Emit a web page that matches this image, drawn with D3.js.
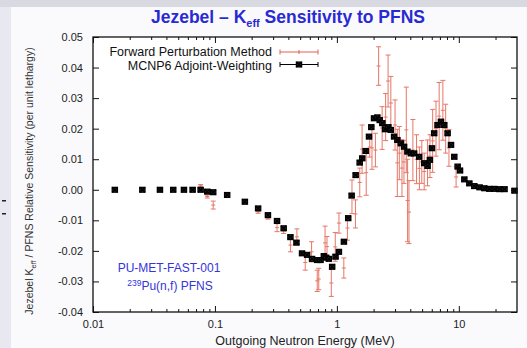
<!DOCTYPE html>
<html><head><meta charset="utf-8">
<script src="https://cdn.jsdelivr.net/npm/d3@7"></script>
<style>body{margin:0;background:#fafafd;} svg{display:block;font-family:Arial,"Liberation Sans",sans-serif;}</style>
</head><body><svg id="c" width="527" height="348"></svg>
<script>
// MCNP6 adjoint-weighting (black)
const blackE=[0.0151,0.0254,0.0354,0.0455,0.0557,0.0656,0.0763,0.0865,0.0968,0.126,0.176,0.226,0.272,0.323,0.366,0.416,0.466,0.518,0.570,0.626,0.689,0.734,0.782,0.817,0.859,0.915,0.975,1.039,1.142,1.239,1.321,1.425,1.538,1.615,1.722,1.834,1.916,2.017,2.147,2.246,2.36,2.483,2.643,2.767,2.946,3.135,3.344,3.558,3.79,4.043,4.30,4.73,5.20,5.54,5.79,6.02,6.28,6.69,7.14,7.60,8.09,8.63,9.18,9.78,10.23,11.1,12.2,13.4,14.8,16.2,17.8,19.6,21.5,23.7,28.6];
const blackV=[0,0,0,0,0,0,0,-0.0006,-0.0008,-0.0017,-0.0039,-0.0061,-0.0083,-0.0102,-0.0126,-0.0155,-0.0173,-0.0208,-0.0213,-0.0226,-0.0230,-0.0230,-0.0217,-0.0222,-0.0226,-0.0252,-0.0219,-0.0203,-0.0170,-0.0093,-0.0019,0.0048,0.0089,0.0103,0.0127,0.0174,0.0205,0.0234,0.0237,0.0228,0.0218,0.0198,0.0205,0.0196,0.0174,0.0163,0.0152,0.0141,0.0125,0.0119,0.0119,0.0108,0.0087,0.0078,0.0098,0.0136,0.0185,0.0212,0.0223,0.0212,0.0185,0.0147,0.0108,0.0076,0.0063,0.0034,0.0021,0.0012,0.0008,0.0005,0.0003,0.0003,0.0002,0.0002,-0.0003];
// Forward perturbation (red) with error bars
const redE=[0.0354,0.0455,0.0763,0.0865,0.0968,0.176,0.226,0.272,0.323,0.366,0.416,0.47,0.55,0.62,0.69,0.71,0.80,0.83,0.90,0.97,1.04,1.14,1.22,1.33,1.42,1.54,1.61,1.74,1.86,1.94,2.07,2.2,2.35,2.51,2.63,2.77,3.0,3.13,3.25,3.42,3.55,3.71,3.8,3.9,4.2,4.5,4.75,4.97,5.2,5.54,5.8,6.1,6.5,6.9,7.4,7.8,8.3,9.5];
const redV=[0.0003,0.0004,0.0013,-0.0022,-0.0050,-0.0044,-0.0072,-0.0092,-0.0124,-0.0135,-0.0181,-0.0154,-0.0238,-0.0203,-0.0298,-0.0292,-0.0174,-0.0186,-0.0305,-0.0187,-0.0109,-0.0256,-0.0125,-0.0023,-0.0079,0.0024,0.0133,0.0056,0.0140,0.0137,0.0130,0.0405,0.0202,0.0238,0.0356,0.0284,0.0212,0.0088,0.0120,0.0071,0.0091,0.0196,-0.0035,-0.0073,0.0130,0.0100,0.0070,0.0091,0.0060,0.0088,0.0110,0.0160,0.0200,0.0241,0.0260,0.0200,0.0137,0.0042];
const redErr=[0.0003,0.0003,0.0004,0.0005,0.0013,0.0004,0.0005,0.0004,0.0013,0.0008,0.0022,0.0026,0.0025,0.0033,0.0035,0.0035,0.0055,0.0033,0.0044,0.0047,0.0033,0.0033,0.0040,0.0055,0.0046,0.0047,0.0079,0.0074,0.0033,0.0070,0.0055,0.0063,0.0070,0.0077,0.0085,0.0087,0.0082,0.0110,0.0087,0.0093,0.0070,0.0140,0.0135,0.0103,0.0100,0.0080,0.0070,0.0070,0.0060,0.0075,0.0070,0.0103,0.0090,0.0110,0.0098,0.0080,0.0060,0.0033];

const xTickValues=[0.01,0.1,1,10];
const xTickLabels=["0.01","0.1","1","10"];
const xMinorValues=[0.02,0.03,0.04,0.05,0.06,0.07,0.08,0.09,0.2,0.3,0.4,0.5,0.6,0.7,0.8,0.9,2,3,4,5,6,7,8,9,20];
const yTickValues=[-0.04,-0.03,-0.02,-0.01,0,0.01,0.02,0.03,0.04,0.05];
const yTickLabels=["-0.04","-0.03","-0.02","-0.01","0.00","0.01","0.02","0.03","0.04","0.05"];
const legendLabels=["Forward Perturbation Method","MCNP6 Adjoint-Weighting"];

const L=93,R=517,T=37,B=312;
const svg=d3.select("#c");
const x=d3.scaleLog().domain([0.01,30]).range([L,R]);
const y=d3.scaleLinear().domain([-0.04,0.05]).range([B,T]);
const red="#e2604e";

// backdrop
svg.append("rect").attr("width",527).attr("height",348).attr("fill","#fafafd");
svg.append("rect").attr("x",0).attr("y",0).attr("width",11).attr("height",348).attr("fill","#e8e8f1");
svg.append("rect").attr("x",0).attr("y",0).attr("width",527).attr("height",7).attr("fill","#d9d9e2");
svg.append("rect").attr("x",L).attr("y",T).attr("width",R-L).attr("height",B-T).attr("fill","#fff");
svg.append("rect").attr("x",2).attr("y",200).attr("width",4).attr("height",1.5).attr("fill","#222");
svg.append("rect").attr("x",2).attr("y",213).attr("width",4).attr("height",1.5).attr("fill","#222");

// title
const title=svg.append("text").attr("x",288).attr("y",23).attr("text-anchor","middle")
  .attr("font-size",17.5).attr("font-weight","bold").attr("fill","#2a2ad4");
title.append("tspan").text("Jezebel \u2013 K");
title.append("tspan").attr("font-size",11).attr("dy",4).text("eff");
title.append("tspan").attr("dy",-4).text(" Sensitivity to PFNS");

// axes
function styleAxis(g){g.select(".domain").remove();g.selectAll("line").attr("stroke","#111").attr("stroke-width",1);g.selectAll("text").attr("fill","#222").attr("font-size",11).attr("font-family","Arial,'Liberation Sans',sans-serif");}
svg.append("g").attr("transform",`translate(0,${B})`).call(d3.axisBottom(x).tickValues(xTickValues).tickFormat((d,i)=>xTickLabels[i]).tickSizeInner(-6).tickSizeOuter(0).tickPadding(8)).call(styleAxis);
svg.append("g").attr("transform",`translate(0,${B})`).call(d3.axisBottom(x).tickValues(xMinorValues).tickFormat("").tickSizeInner(-3).tickSizeOuter(0)).call(styleAxis);
svg.append("g").attr("transform",`translate(0,${T})`).call(d3.axisTop(x).tickValues(xTickValues).tickFormat("").tickSizeInner(-6).tickSizeOuter(0)).call(styleAxis);
svg.append("g").attr("transform",`translate(0,${T})`).call(d3.axisTop(x).tickValues(xMinorValues).tickFormat("").tickSizeInner(-3).tickSizeOuter(0)).call(styleAxis);
svg.append("g").attr("transform",`translate(${L},0)`).call(d3.axisLeft(y).tickValues(yTickValues).tickFormat((d,i)=>yTickLabels[i]).tickSizeInner(-6).tickSizeOuter(0).tickPadding(10)).call(styleAxis);
svg.append("g").attr("transform",`translate(${R},0)`).call(d3.axisRight(y).tickValues(yTickValues).tickFormat("").tickSizeInner(-6).tickSizeOuter(0)).call(styleAxis);

// axis titles
svg.append("text").attr("x",305).attr("y",345).attr("text-anchor","middle").attr("font-size",12.5).attr("fill","#222").text("Outgoing Neutron Energy (MeV)");
const yt=svg.append("text").attr("transform","translate(33,181) rotate(-90)").attr("text-anchor","middle").attr("font-size",10.5).attr("fill","#333");
yt.append("tspan").text("Jezebel K");
yt.append("tspan").attr("font-size",7.5).attr("dy",2.5).text("eff");
yt.append("tspan").attr("dy",-2.5).text(" / PFNS Relative Sensitivity (per unit lethargy)");

// red error bars
const redData=redE.map((e,i)=>({e,v:redV[i],err:redErr[i]}));
const rg=svg.append("g").attr("stroke",red).attr("stroke-width",1).attr("opacity",0.85);
redData.forEach(d=>{
  const cx=x(d.e), y0=y(d.v-d.err), y1=y(d.v+d.err);
  rg.append("line").attr("x1",cx).attr("x2",cx).attr("y1",y0).attr("y2",y1);
  rg.append("line").attr("x1",cx-2.5).attr("x2",cx+2.5).attr("y1",y0).attr("y2",y0);
  rg.append("line").attr("x1",cx-2.5).attr("x2",cx+2.5).attr("y1",y1).attr("y2",y1);
  rg.append("line").attr("x1",cx-2).attr("x2",cx+2).attr("y1",y(d.v)).attr("y2",y(d.v));
});

// black markers
function marker(g,cx,cy){
  g.append("rect").attr("x",cx-2.6).attr("y",cy-2.4).attr("width",5.2).attr("height",4.8).attr("fill","#333").attr("stroke","#000").attr("stroke-width",1.3);
  g.append("path").attr("d",`M${cx-2.6},${cy-2.4}L${cx+2.6},${cy+2.4}M${cx+2.6},${cy-2.4}L${cx-2.6},${cy+2.4}`).attr("stroke","#000").attr("stroke-width",1.4);
}
const bg=svg.append("g");
blackE.forEach((e,i)=>marker(bg,x(e),y(blackV[i])));

// frame
svg.append("rect").attr("x",L).attr("y",T).attr("width",R-L).attr("height",B-T).attr("fill","none").attr("stroke","#111").attr("stroke-width",1.3);

// legend
const lg=svg.append("g");
lg.append("text").attr("x",272).attr("y",56).attr("text-anchor","end").attr("font-size",12.5).attr("fill","#111").text(legendLabels[0]);
lg.append("text").attr("x",272).attr("y",69.5).attr("text-anchor","end").attr("font-size",12.5).attr("fill","#111").text(legendLabels[1]);
const ly1=52, ly2=64.5;
lg.append("line").attr("x1",280).attr("x2",318).attr("y1",ly1).attr("y2",ly1).attr("stroke",red);
[280,318].forEach(px=>lg.append("line").attr("x1",px).attr("x2",px).attr("y1",ly1-2.5).attr("y2",ly1+2.5).attr("stroke",red));
lg.append("line").attr("x1",299).attr("x2",299).attr("y1",ly1-2).attr("y2",ly1+2).attr("stroke",red);
lg.append("line").attr("x1",280).attr("x2",318).attr("y1",ly2).attr("y2",ly2).attr("stroke","#000");
[280,318].forEach(px=>lg.append("line").attr("x1",px).attr("x2",px).attr("y1",ly2-2.5).attr("y2",ly2+2.5).attr("stroke","#000"));
marker(lg,299,ly2);

// annotation
svg.append("text").attr("x",169).attr("y",272).attr("text-anchor","middle").attr("font-size",12).attr("fill","#3434d8").text("PU-MET-FAST-001");
const an=svg.append("text").attr("x",170).attr("y",290).attr("text-anchor","middle").attr("font-size",12).attr("fill","#3434d8");
an.append("tspan").attr("font-size",8.5).attr("dy",-4).text("239");
an.append("tspan").attr("dy",4).text("Pu(n,f) PFNS");
</script></body></html>
